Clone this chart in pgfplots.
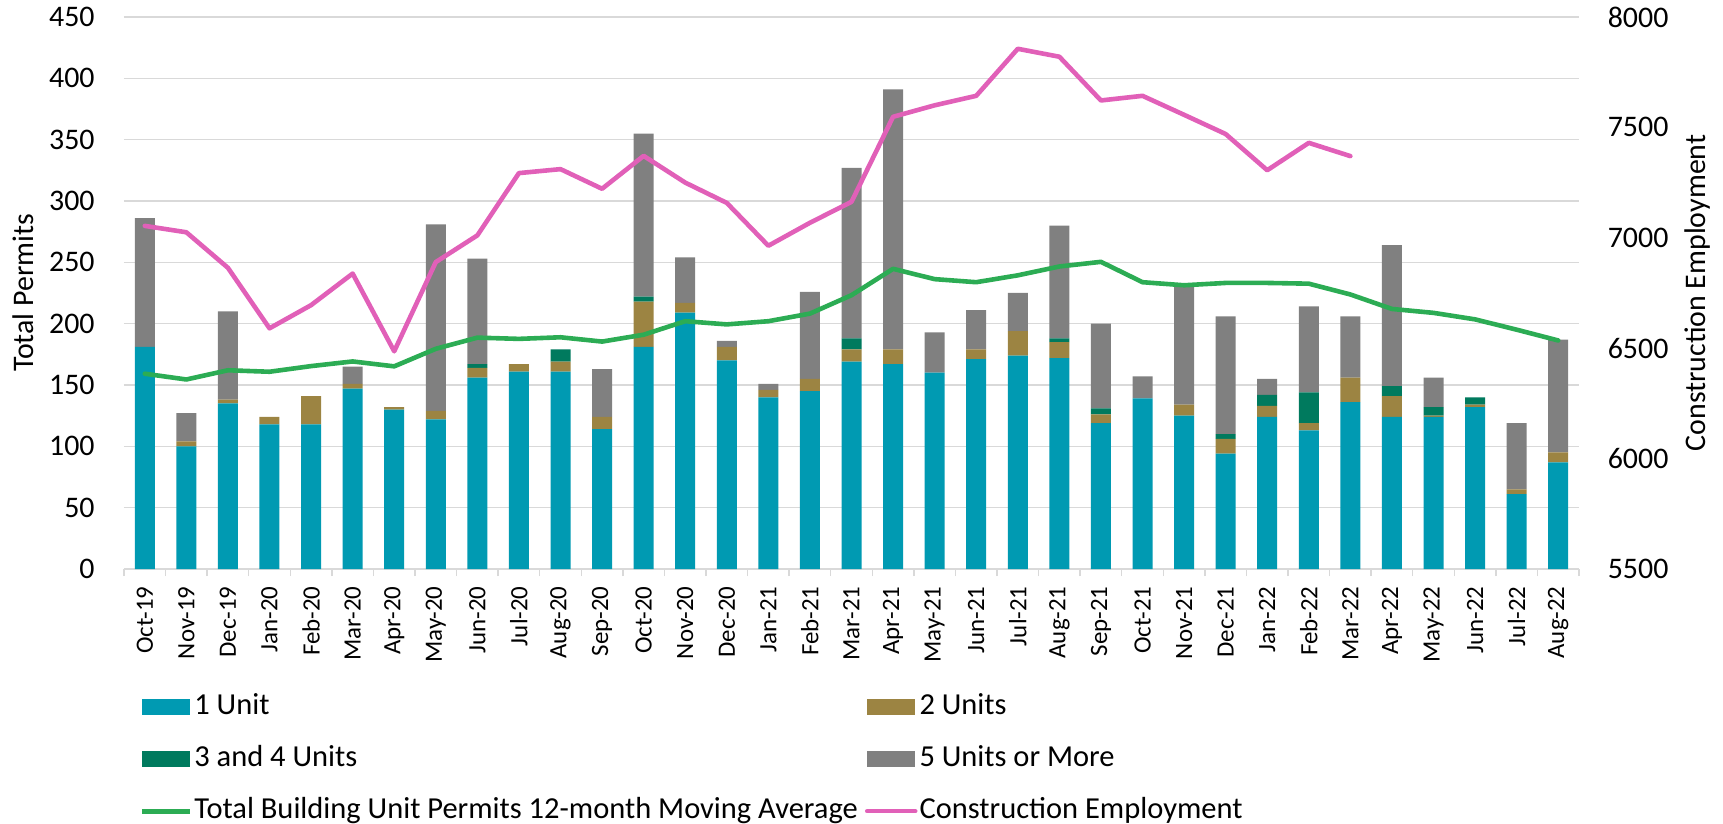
\documentclass[border=0pt]{standalone}
\usepackage{pgfplots}
\pgfplotsset{compat=1.18}
\usepackage{pgfplotstable}
\usepackage{fontspec}
\setmainfont{Carlito}
\definecolor{cOne}{RGB}{0,154,178}
\definecolor{cTwo}{RGB}{156,132,66}
\definecolor{cThree}{RGB}{0,122,94}
\definecolor{cFive}{RGB}{128,128,128}
\definecolor{cMA}{RGB}{44,172,84}
\definecolor{cEmp}{RGB}{225,96,184}
\definecolor{cGrid}{RGB}{217,217,217}

\pgfplotstableread{
x one two three five ma
0 181 0 0 105 159.2
1 100 4 0 23 154.5
2 135 3 0 72 162
3 118 6 0 0 160.8
4 118 23 0 0 165.4
5 147 4 0 14 169.2
6 130 2 0 0 165.2
7 122 7 0 152 179.5
8 156 8 3 86 188.6
9 161 6 0 0 187.6
10 161 8 10 0 188.9
11 114 10 0 39 185.4
12 181 37 4 133 191
13 209 8 0 37 202
14 170 11 0 5 199.4
15 140 6 0 5 202
16 145 10 0 71 208.2
17 169 10 9 139 223.2
18 167 12 0 212 244.7
19 160 0 0 33 236.3
20 171 8 0 32 233.8
21 174 20 0 31 239.4
22 172 13 3 92 246.6
23 119 7 5 69 250.4
24 139 0 0 18 233.8
25 125 9 0 98 231.3
26 94 12 4 96 233.2
27 124 9 9 13 233.2
28 113 6 25 70 232.6
29 136 20 0 50 223.8
30 124 17 8 115 212
31 124 1 7 24 208.8
32 132 2 6 0 203.5
33 61 4 0 54 195.1
34 87 8 0 92 186.3
}\permits

\pgfplotsset{
  base/.style={width=727.5bp, height=276bp, scale only axis, xmin=-0.5, xmax=34.5,
    /pgf/number format/assume math mode=true, /pgf/number format/1000 sep={}, scaled y ticks=false},
  barleg/.style={legend image code/.code={\fill[##1] (0bp,-3.9bp) rectangle (24bp,3.9bp);}},
  lineleg/.style={legend image code/.code={\draw[##1] (0bp,0bp) -- (24bp,0bp);}},
}

\begin{document}
\begin{tikzpicture}
\begin{axis}[base, name=ax,
  ymin=0, ymax=450, ybar stacked, bar width=10bp,
  ytick={0,50,...,450}, ymajorgrids, grid style={cGrid, line width=0.75bp},
  axis x line*=bottom, axis y line*=left,
  y axis line style={draw=none}, x axis line style={cGrid, line width=0.75bp},
  xtick={0,...,34},
  xticklabels={Oct-19,Nov-19,Dec-19,Jan-20,Feb-20,Mar-20,Apr-20,May-20,Jun-20,Jul-20,Aug-20,Sep-20,Oct-20,Nov-20,Dec-20,Jan-21,Feb-21,Mar-21,Apr-21,May-21,Jun-21,Jul-21,Aug-21,Sep-21,Oct-21,Nov-21,Dec-21,Jan-22,Feb-22,Mar-22,Apr-22,May-22,Jun-22,Jul-22,Aug-22},
  major tick length=0pt,
  minor xtick={-0.5,0.5,...,34.5}, minor tick length=3.5bp, tick align=outside,
  minor tick style={cGrid, line width=0.75bp},
  xticklabel style={rotate=90, anchor=east, inner sep=0pt, font=\fontsize{12.5}{14}\selectfont},
  xticklabel shift=8.5bp,
  yticklabel style={inner sep=0pt, font=\fontsize{15}{17}\selectfont},
  yticklabel shift=14.5bp,
  ylabel={Total Permits},
  ylabel style={at={(rel axis cs:0,0.5)}, anchor=center, yshift=50.5bp, font=\fontsize{15}{17}\selectfont},
]
\addplot[fill=cOne, draw=none] table[x=x, y=one] {\permits};
\addplot[fill=cTwo, draw=none] table[x=x, y=two] {\permits};
\addplot[fill=cThree, draw=none] table[x=x, y=three] {\permits};
\addplot[fill=cFive, draw=none] table[x=x, y=five] {\permits};
\end{axis}

\begin{axis}[base, ymin=0, ymax=450, hide axis]
\addplot[cMA, line width=2.3bp, line join=round, line cap=round] table[x=x, y=ma] {\permits};
\end{axis}

\begin{axis}[base,
  ymin=5500, ymax=8000, ytick={5500,6000,...,8000},
  axis x line=none, axis y line*=right, y axis line style={draw=none},
  major tick length=0pt,
  yticklabel style={inner sep=0pt, font=\fontsize{15}{17}\selectfont},
  yticklabel shift=14.2bp,
  ylabel={Construction Employment},
  ylabel style={at={(rel axis cs:1,0.5)}, anchor=center, yshift=-59.3bp, font=\fontsize{15}{17}\selectfont},
  legend columns=2, legend cell align=left,
  legend style={at={(rel axis cs:0,0)}, anchor=north west, xshift=7.5bp, yshift=-61.1bp,
    draw=none, fill=none, inner sep=0pt, font=\fontsize{15.3}{17}\selectfont,
    nodes={inner sep=1bp, text height=10.5bp, text depth=3bp},
    /tikz/every even column/.append style={column sep=2.5bp}, row sep=10.5bp},
]
\addlegendimage{barleg, fill=cOne, draw=none}
\addlegendentry{1 Unit}
\addlegendimage{barleg, fill=cTwo, draw=none}
\addlegendentry{2 Units}
\addlegendimage{barleg, fill=cThree, draw=none}
\addlegendentry{3 and 4 Units}
\addlegendimage{barleg, fill=cFive, draw=none}
\addlegendentry{5 Units or More}
\addlegendimage{lineleg, cMA, line width=2.5bp}
\addlegendentry{Total Building Unit Permits 12-month Moving Average}
\addplot[lineleg, cEmp, line width=2.3bp, line join=round, line cap=round] coordinates {
(0,7054) (1,7025) (2,6864) (3,6590) (4,6695) (5,6838) (6,6486) (7,6890) (8,7011) (9,7293)
(10,7311) (11,7222) (12,7371) (13,7250) (14,7158) (15,6964) (16,7068) (17,7163) (18,7548) (19,7600)
(20,7643) (21,7856) (22,7820) (23,7622) (24,7643) (25,7557) (26,7470) (27,7306) (28,7430) (29,7370)
};
\addlegendentry{Construction Employment}
\end{axis}

\pgfresetboundingbox
\path ([shift={(-62bp,-127.5bp)}]ax.south west) rectangle ([shift={(72bp,8.5bp)}]ax.north east);
\end{tikzpicture}
\end{document}
